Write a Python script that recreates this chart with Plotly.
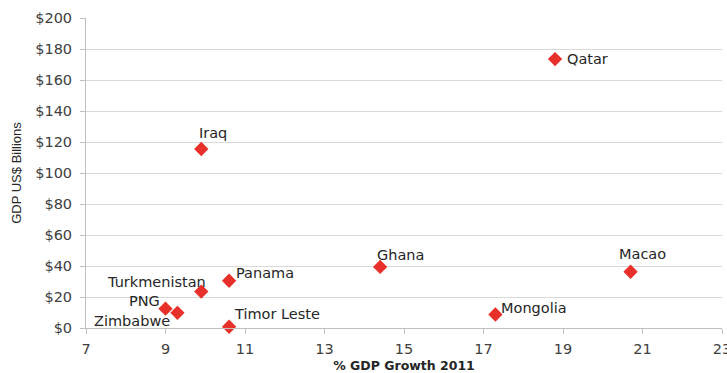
import plotly.graph_objects as go

# GDP growth vs GDP size, 2011
countries = ["Qatar", "Iraq", "Ghana", "Macao", "Mongolia", "Panama",
             "Turkmenistan", "PNG", "Zimbabwe", "Timor Leste"]
growth_pct = [18.8, 9.9, 14.4, 20.7, 17.3, 10.6, 9.9, 9.0, 9.3, 10.6]
gdp_bn = [173.5, 115.5, 39.4, 36.3, 8.7, 30.5, 23.5, 12.5, 9.8, 0.8]

x_ticks = [7, 9, 11, 13, 15, 17, 19, 21, 23]
y_ticks = [0, 20, 40, 60, 80, 100, 120, 140, 160, 180, 200]
y_tick_text = ["$" + str(v) for v in y_ticks]

# label placement: (anchor, x offset px, y offset px)
label_style = {
    "Qatar": ("left", 10, 0),
    "Iraq": ("center", 12, 16),
    "Ghana": ("left", -5, 12),
    "Macao": ("center", 12, 18),
    "Mongolia": ("left", 4, 7),
    "Panama": ("left", 5, 8),
    "Turkmenistan": ("right", 7, 10),
    "PNG": ("right", -4, 8),
    "Zimbabwe": ("right", -5, -8),
    "Timor Leste": ("left", 3, 13),
}

label_font = dict(family="DejaVu Sans, Verdana, sans-serif", size=14.5, color="#262626")

fig = go.Figure()
fig.add_trace(go.Scatter(
    x=growth_pct, y=gdp_bn, mode="markers",
    marker=dict(symbol="diamond", size=11, color="#e8302a", line=dict(width=0)),
    cliponaxis=False, showlegend=False, hoverinfo="text", text=countries,
))

for name, gx, gy in zip(countries, growth_pct, gdp_bn):
    anchor, dx, dy = label_style[name]
    fig.add_annotation(
        x=gx, y=gy, text=name, showarrow=False,
        xanchor=anchor, yanchor="middle", xshift=dx, yshift=dy,
        font=label_font,
    )

tick_font = dict(family="DejaVu Sans, Verdana, sans-serif", size=14.5, color="#404040")
fig.update_layout(
    width=727, height=373,
    margin=dict(l=86, r=5, t=18, b=45),
    paper_bgcolor="white", plot_bgcolor="white",
    xaxis=dict(
        range=[7, 23], tickvals=x_ticks, ticktext=[str(v) for v in x_ticks],
        showgrid=False, zeroline=False, automargin=False,
        showline=True, linecolor="#bfbfbf", linewidth=1,
        ticks="outside", ticklen=5, tickcolor="#bfbfbf",
        tickfont=tick_font, ticklabeloverflow="allow", ticklabelstandoff=3,
        title=dict(text="<b>% GDP Growth 2011</b>",
                   font=dict(family="DejaVu Sans, Verdana, sans-serif", size=12.5, color="#262626"),
                   standoff=10),
    ),
    yaxis=dict(
        range=[0, 200], tickvals=y_ticks, ticktext=y_tick_text,
        showgrid=True, gridcolor="#d9d9d9", gridwidth=1,
        zeroline=False, automargin=False,
        showline=True, linecolor="#bfbfbf", linewidth=1,
        ticks="outside", ticklen=5, tickcolor="#bfbfbf",
        tickfont=tick_font, ticklabelstandoff=5,
        title=dict(text="GDP US$ Billions",
                   font=dict(family="Liberation Sans Narrow, Liberation Sans, sans-serif", size=13, color="#262626"),
                   standoff=10),
    ),
)

fig.write_html("out.html")
